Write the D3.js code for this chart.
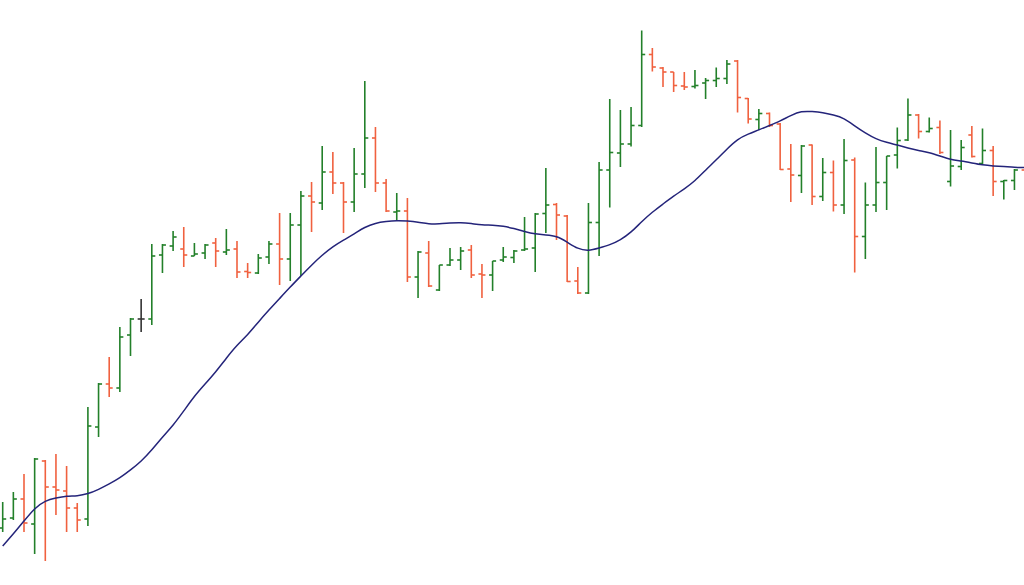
<!DOCTYPE html>
<html>
<head>
<meta charset="utf-8">
<script src="https://cdn.jsdelivr.net/npm/d3@7/dist/d3.min.js"></script>
<style>
html,body{margin:0;padding:0;background:#fff;overflow:hidden;}
svg{display:block;}
</style>
</head>
<body>
<svg id="chart" width="1024" height="585"></svg>
<script>
const openP  = [14.4,16.4,20.2,15.2,27.8,22.6,21.8,18.4,16.2,34.6,43.2,42.4,53.0,56.2,56.2,69.0,70.8,70.2,68.8,69.4,71.4,69.6,70.2,65.7,65.4,68.6,71.2,68.2,75.0,80.8,79.4,85.6,83.4,79.6,85.2,92.4,83.4,77.6,77.8,64.6,69.4,62.0,67.0,68.0,70.0,65.2,65.0,68.0,68.5,70.0,70.4,77.3,79.1,76.8,63.8,61.4,75.5,86.0,89.4,91.2,94.9,109.1,106.4,105.6,102.8,102.7,103.4,103.9,104.3,107.8,100.3,96.1,97.3,95.2,86.2,84.9,91.0,80.7,85.5,79.0,88.0,72.7,79.0,83.5,89.0,92.0,97.0,93.7,94.5,83.7,86.7,93.0,87.3,89.9,83.7,83.9,86.0];
const highP  = [19.6,21.6,25.2,28.4,28.0,29.2,26.8,19.4,38.6,43.4,48.6,54.6,56.4,60.2,71.2,71.2,73.8,74.6,71.4,71.2,72.4,74.2,71.8,67.4,69.2,71.8,77.4,77.4,81.8,83.6,90.8,89.6,83.6,90.4,103.8,94.6,84.2,81.4,80.4,69.8,71.8,67.0,70.4,70.6,71.0,67.2,67.8,70.6,70.0,76.6,77.4,86.4,79.4,77.0,66.6,79.4,87.6,100.2,98.0,98.6,113.9,110.4,106.6,105.6,105.6,106.0,104.4,106.5,108.0,108.0,100.4,98.2,97.5,95.4,91.2,91.0,91.1,88.4,87.9,92.2,88.5,83.5,90.6,88.8,94.5,100.3,97.2,96.5,95.9,94.0,92.0,94.8,94.3,90.8,84.0,86.2,86.4];
const lowP   = [13.6,16.0,13.6,9.2,7.8,17.0,13.6,13.6,14.8,32.6,40.6,41.6,48.8,53.6,55.0,65.4,69.8,66.6,68.8,68.2,66.6,69.0,64.4,64.4,65.2,67.2,63.0,63.8,64.8,73.6,78.0,81.2,73.4,77.6,82.4,81.6,77.6,75.8,63.6,60.4,62.6,61.8,66.8,66.0,64.4,60.4,61.8,67.6,67.4,69.8,65.6,73.4,72.0,63.6,61.2,61.2,68.8,78.5,86.6,90.7,94.6,105.7,102.6,101.6,102.0,102.3,100.2,102.6,103.2,97.5,95.3,94.0,94.6,86.0,79.6,81.4,79.0,79.8,77.7,77.2,65.5,68.2,77.6,78.0,86.3,91.8,92.3,93.5,89.2,82.7,86.0,88.5,87.2,80.8,80.1,82.0,84.0];
const closeP = [16.2,20.2,15.4,28.2,22.6,22.0,18.4,16.0,34.8,43.2,42.4,52.6,56.2,56.2,68.8,71.0,72.6,69.0,69.2,71.0,69.8,70.0,65.6,65.5,68.4,71.2,68.2,75.0,80.8,79.6,85.6,83.4,79.6,85.2,92.4,83.4,77.8,77.8,64.6,69.6,62.8,67.0,68.0,69.8,65.0,65.0,67.8,68.6,69.8,70.2,77.2,79.0,77.0,63.7,61.4,75.5,86.0,89.5,91.2,94.9,109.1,106.6,105.6,102.9,102.6,102.9,103.9,104.3,107.2,100.5,96.2,97.3,94.9,86.1,85.0,90.8,80.7,85.5,79.0,87.9,72.7,79.0,83.5,88.8,91.9,97.0,93.7,94.3,89.5,86.8,90.5,88.7,89.9,83.7,83.9,86.0,84.8];
const movingAvg = [10.8,13.2,15.8,18.4,19.9,20.4,20.8,20.8,21.2,22.1,23.2,24.4,26.0,27.7,30.0,32.6,34.9,37.8,40.8,43.2,45.6,48.4,51.0,53.0,55.6,58.0,60.3,62.6,64.8,67.0,69.0,70.7,72.0,73.2,74.6,75.4,75.7,75.9,75.8,75.6,75.2,75.2,75.4,75.5,75.3,75.0,75.0,74.8,74.3,73.7,73.2,73.0,72.8,71.6,70.2,69.8,70.4,71.0,72.0,73.5,75.7,77.6,79.2,80.8,82.2,83.8,86.0,88.0,90.2,92.2,93.2,94.0,94.9,95.8,96.9,97.8,97.7,97.5,97.0,96.4,94.8,93.4,92.2,91.5,91.0,90.4,89.9,89.5,88.8,88.1,87.8,87.4,87.0,86.8,86.7,86.5,86.5];

const W = 1024, H = 585;
const svg = d3.select("#chart");
const n = openP.length;
const bars = d3.range(n).map(i => ({i, o: openP[i], h: highP[i], l: lowP[i], c: closeP[i]}));

const x = d3.scaleLinear().domain([0, n - 1]).range([2.7, 2.7 + 10.65 * (n - 1)]);
const y = d3.scaleLinear().domain([0, 120]).range([600, 0]);

const upColor = "#23802a", downColor = "#f0613f", flatColor = "#333333";
const color = d => d.c > d.o ? upColor : (d.c < d.o ? downColor : flatColor);
const tick = 3.5;

const g = svg.append("g").attr("stroke-width", 1.6).attr("fill", "none");
const bar = g.selectAll("g.bar").data(bars).join("g").attr("class", "bar").attr("stroke", color);
bar.append("line")
  .attr("x1", d => x(d.i)).attr("x2", d => x(d.i))
  .attr("y1", d => y(d.h)).attr("y2", d => y(d.l));
bar.append("line")
  .attr("x1", d => x(d.i) - tick).attr("x2", d => x(d.i))
  .attr("y1", d => y(d.o)).attr("y2", d => y(d.o));
bar.append("line")
  .attr("x1", d => x(d.i)).attr("x2", d => x(d.i) + tick)
  .attr("y1", d => y(d.c)).attr("y2", d => y(d.c));

const line = d3.line().x((d, i) => x(i)).y(d => y(d)).curve(d3.curveBasis);
svg.append("path")
  .datum(movingAvg)
  .attr("d", line)
  .attr("fill", "none")
  .attr("stroke", "#24247a")
  .attr("stroke-width", 1.5);
</script>
</body>
</html>
